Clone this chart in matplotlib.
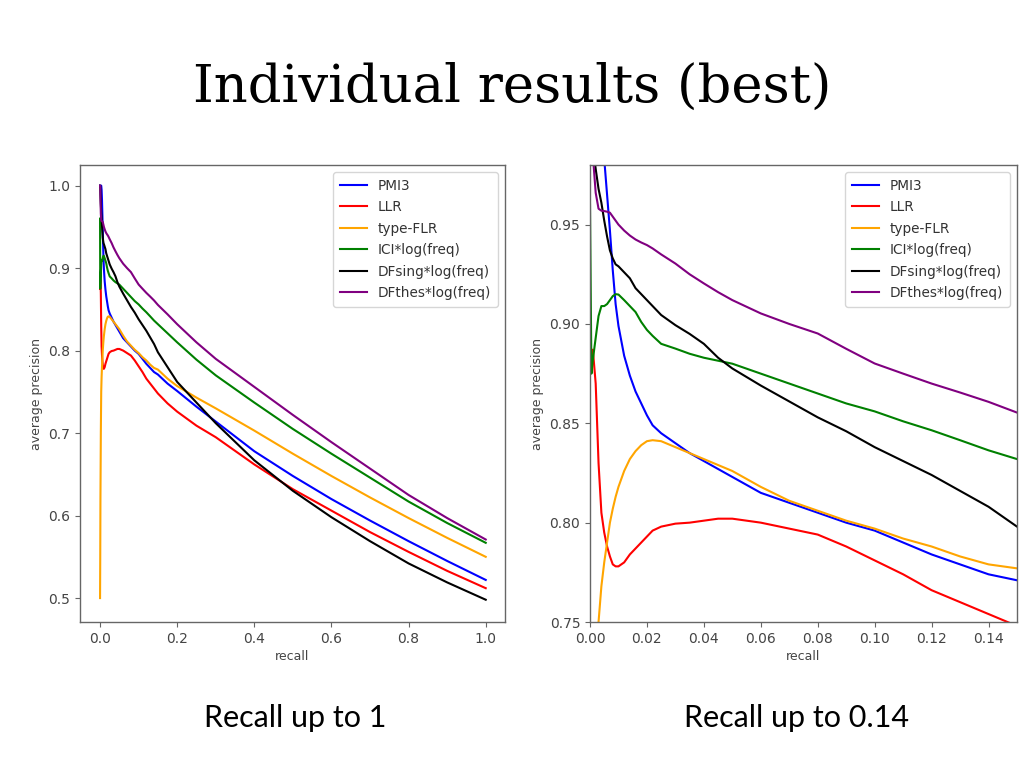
import matplotlib
matplotlib.use("Agg")
import matplotlib.pyplot as plt
from matplotlib.ticker import FormatStrFormatter

# ---------------- data ----------------
recall = [0.0, 0.0005, 0.001, 0.002, 0.003, 0.004, 0.005, 0.006, 0.007, 0.008,
          0.009, 0.010, 0.012, 0.014, 0.016, 0.018, 0.020, 0.022, 0.025, 0.030,
          0.035, 0.040, 0.045, 0.050, 0.060, 0.070, 0.080, 0.090, 0.100, 0.110,
          0.120, 0.130, 0.140, 0.150, 0.175, 0.20, 0.25, 0.30, 0.40, 0.50,
          0.60, 0.70, 0.80, 0.90, 1.00]

pmi3 = [1.0, 1.0, 1.0, 1.0, 1.0, 0.995, 0.983, 0.965, 0.947, 0.927,
        0.910, 0.899, 0.884, 0.874, 0.866, 0.860, 0.854, 0.849, 0.845, 0.840,
        0.835, 0.831, 0.827, 0.823, 0.815, 0.810, 0.805, 0.800, 0.796, 0.790,
        0.784, 0.779, 0.774, 0.771, 0.760, 0.751, 0.732, 0.714, 0.678, 0.648,
        0.620, 0.594, 0.569, 0.545, 0.522]

llr = [0.875, 0.887, 0.887, 0.870, 0.830, 0.805, 0.795, 0.788, 0.783, 0.779,
       0.778, 0.778, 0.780, 0.784, 0.787, 0.790, 0.793, 0.796, 0.798, 0.7995,
       0.800, 0.801, 0.802, 0.802, 0.800, 0.797, 0.794, 0.788, 0.781, 0.774,
       0.766, 0.760, 0.754, 0.748, 0.736, 0.726, 0.709, 0.695, 0.662, 0.632,
       0.606, 0.580, 0.556, 0.533, 0.512]

type_flr = [0.500, 0.550, 0.620, 0.700, 0.750, 0.768, 0.780, 0.790, 0.800, 0.807,
            0.813, 0.818, 0.826, 0.832, 0.836, 0.839, 0.841, 0.8415, 0.841, 0.838,
            0.835, 0.832, 0.829, 0.826, 0.818, 0.811, 0.806, 0.801, 0.797, 0.792,
            0.788, 0.783, 0.779, 0.777, 0.766, 0.757, 0.743, 0.730, 0.703, 0.675,
            0.648, 0.622, 0.597, 0.573, 0.550]

ici_logfreq = [0.960, 0.875, 0.882, 0.893, 0.904, 0.909, 0.909, 0.910, 0.912, 0.914,
               0.915, 0.9148, 0.912, 0.909, 0.906, 0.901, 0.897, 0.894, 0.890, 0.8876,
               0.885, 0.883, 0.8815, 0.880, 0.875, 0.870, 0.865, 0.860, 0.856, 0.851,
               0.8465, 0.8415, 0.8364, 0.832, 0.821, 0.810, 0.789, 0.770, 0.737, 0.705,
               0.675, 0.646, 0.617, 0.591, 0.567]

dfsing_logfreq = [1.0, 1.0, 0.990, 0.978, 0.968, 0.961, 0.952, 0.944, 0.937, 0.933,
                  0.930, 0.929, 0.926, 0.923, 0.918, 0.915, 0.912, 0.909, 0.9045, 0.8994,
                  0.895, 0.890, 0.883, 0.8776, 0.869, 0.861, 0.853, 0.846, 0.838, 0.831,
                  0.824, 0.816, 0.808, 0.798, 0.780, 0.762, 0.737, 0.712, 0.667, 0.630,
                  0.598, 0.569, 0.542, 0.519, 0.498]

dfthes_logfreq = [1.0, 1.0, 0.985, 0.966, 0.958, 0.957, 0.9568, 0.9565, 0.956, 0.954,
                  0.952, 0.950, 0.947, 0.9445, 0.9425, 0.941, 0.9397, 0.938, 0.935, 0.9304,
                  0.925, 0.9204, 0.916, 0.912, 0.9053, 0.900, 0.8952, 0.8875, 0.8801, 0.875,
                  0.870, 0.8655, 0.8608, 0.8554, 0.844, 0.832, 0.810, 0.790, 0.756, 0.722,
                  0.689, 0.657, 0.625, 0.597, 0.571]

series_labels = ["PMI3", "LLR", "type-FLR", "ICI*log(freq)",
                 "DFsing*log(freq)", "DFthes*log(freq)"]
series_values = [pmi3, llr, type_flr, ici_logfreq, dfsing_logfreq, dfthes_logfreq]
series_colors = ["blue", "red", "orange", "green", "black", "purple"]

title_text = "Individual results (best)"
caption_left = "Recall up to 1"
caption_right = "Recall up to 0.14"

left_xticks = [0.0, 0.2, 0.4, 0.6, 0.8, 1.0]
left_yticks = [0.5, 0.6, 0.7, 0.8, 0.9, 1.0]
right_xticks = [0.00, 0.02, 0.04, 0.06, 0.08, 0.10, 0.12, 0.14]
right_yticks = [0.75, 0.80, 0.85, 0.90, 0.95]

# ---------------- figure ----------------
fig = plt.figure(figsize=(10.24, 7.68), dpi=100)
fig.patch.set_facecolor("white")

ax1 = fig.add_axes([80/1024, 1-622/768, 425/1024, 457/768])
ax2 = fig.add_axes([590/1024, 1-622/768, 427/1024, 457/768])

spine_col = "#666666"
text_col = "#444444"

for ax in (ax1, ax2):
    for lab, vals, col in zip(series_labels, series_values, series_colors):
        ax.plot(recall, vals, color=col, lw=1.5, label=lab,
                solid_joinstyle="round")
    for s in ax.spines.values():
        s.set_color(spine_col)
        s.set_linewidth(1.0)
    ax.tick_params(colors=spine_col, labelcolor=text_col, labelsize=10,
                   length=3.5, width=0.8)
    ax.set_xlabel("recall", fontsize=9, color=text_col, labelpad=3)
    ax.set_ylabel("average precision", fontsize=9, color=text_col, labelpad=4)
    leg = ax.legend(loc="upper right", fontsize=9.8, framealpha=0.8,
                    borderpad=0.5, labelspacing=0.55, handlelength=2.0)
    leg.get_frame().set_edgecolor("#cccccc")
    for t in leg.get_texts():
        t.set_color("#333333")

ax1.set_xticks(left_xticks)
ax1.set_yticks(left_yticks)
ax1.xaxis.set_major_formatter(FormatStrFormatter("%.1f"))
ax1.yaxis.set_major_formatter(FormatStrFormatter("%.1f"))
ax1.set_xlim(-0.052, 1.05)
ax1.set_ylim(0.471, 1.025)

ax2.set_xticks(right_xticks)
ax2.set_yticks(right_yticks)
ax2.xaxis.set_major_formatter(FormatStrFormatter("%.2f"))
ax2.yaxis.set_major_formatter(FormatStrFormatter("%.2f"))
ax2.set_xlim(0.0, 0.15)
ax2.set_ylim(0.75, 0.98)

fig.text(0.5, 1-102/768, title_text, ha="center", va="baseline",
         fontsize=38, family="DejaVu Serif", color="black")
fig.text(295/1024, 1-727/768, caption_left, ha="center", va="baseline",
         fontsize=22, family="Lato", color="black")
fig.text(796/1024, 1-727/768, caption_right, ha="center", va="baseline",
         fontsize=22, family="Lato", color="black")

fig.savefig("out.png", dpi=100, facecolor="white")
